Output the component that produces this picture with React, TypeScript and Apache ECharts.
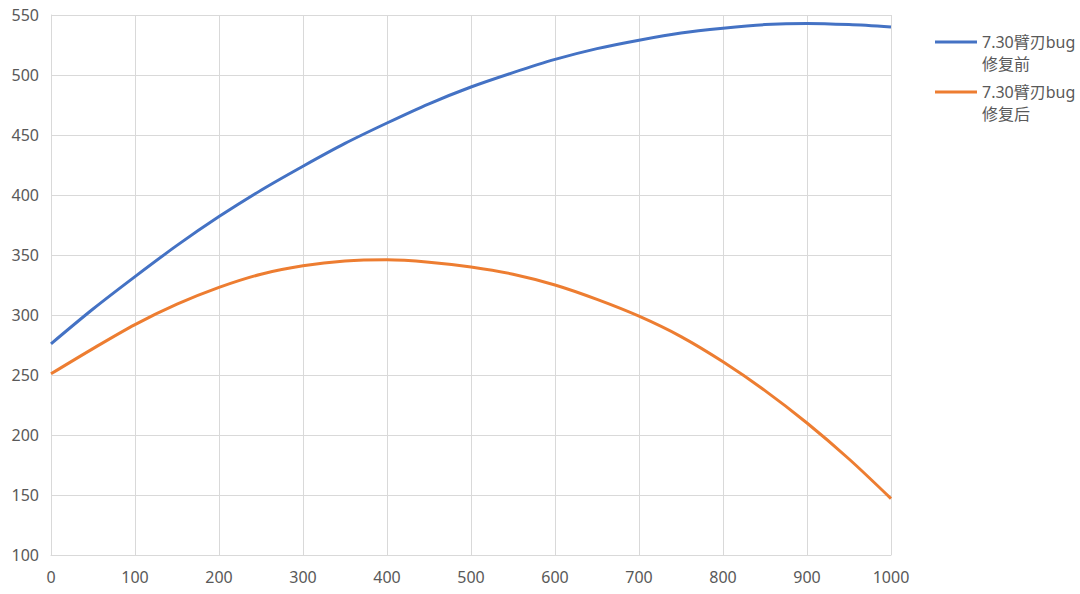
import React, { useEffect, useRef } from "react";
import * as echarts from "echarts";

const xValues = [0, 50, 100, 150, 200, 250, 300, 350, 400, 450, 500, 550, 600, 650, 700, 750, 800, 850, 900, 950, 1000];
const beforeFix = [276, 305, 332, 358, 382, 404, 424, 443, 460, 476, 490, 502, 513, 522, 529, 535, 539, 542, 543, 542, 540];
const afterFix = [251, 272, 292, 309, 323, 334, 341, 345, 346, 344, 340, 334, 325, 313, 299, 282, 261, 237, 210, 180, 147];
const seriesNames = ["7.30臂刃bug修复前", "7.30臂刃bug修复后"];
const legendLabels = ["\n7.30臂刃bug\n修复前", "\n7.30臂刃bug\n修复后"];

export default function App() {
  const ref = useRef<HTMLDivElement>(null);
  useEffect(() => {
    if (!ref.current) return;
    const chart = echarts.init(ref.current, undefined, { renderer: "svg" });
    const font = "'Noto Sans', 'Noto Sans CJK SC', sans-serif";
    chart.setOption({
      animation: false,
      backgroundColor: "#ffffff",
      textStyle: { fontFamily: font },
      grid: { left: 51, right: 189, top: 15, bottom: 39, containLabel: false },
      legend: {
        orient: "vertical",
        left: 930,
        top: 4,
        itemWidth: 42,
        itemHeight: 3,
        itemGap: -16,
        icon: "rect",
        data: seriesNames,
        formatter: (name: string) => legendLabels[seriesNames.indexOf(name)],
        textStyle: { color: "#595959", fontSize: 16, lineHeight: 22, fontFamily: font },
      },
      xAxis: {
        type: "value",
        min: 0,
        max: 1000,
        interval: 100,
        axisLine: { show: true, lineStyle: { color: "#D9D9D9", width: 1 } },
        axisTick: { show: false },
        splitLine: { show: true, lineStyle: { color: "#D9D9D9", width: 1 } },
        axisLabel: {
          color: "#595959",
          fontSize: 16,
          margin: 14,
          fontFamily: font,
          formatter: (v: number) => String(v),
        },
      },
      yAxis: {
        type: "value",
        min: 100,
        max: 550,
        interval: 50,
        axisLine: { show: true, lineStyle: { color: "#D9D9D9", width: 1 } },
        axisTick: { show: false },
        splitLine: { show: true, lineStyle: { color: "#D9D9D9", width: 1 } },
        axisLabel: {
          color: "#595959",
          fontSize: 16,
          margin: 12,
          fontFamily: font,
          formatter: (v: number) => String(v),
        },
      },
      series: [
        {
          name: seriesNames[0],
          type: "line",
          smooth: 0.3,
          showSymbol: false,
          symbol: "none",
          data: xValues.map((x, i) => [x, beforeFix[i]]),
          lineStyle: { color: "#4472C4", width: 3 },
          itemStyle: { color: "#4472C4" },
        },
        {
          name: seriesNames[1],
          type: "line",
          smooth: 0.3,
          showSymbol: false,
          symbol: "none",
          data: xValues.map((x, i) => [x, afterFix[i]]),
          lineStyle: { color: "#ED7D31", width: 3 },
          itemStyle: { color: "#ED7D31" },
        },
      ],
    });
    return () => chart.dispose();
  }, []);
  return (
    <div
      ref={ref}
      style={{ position: "absolute", left: 0, top: 0, width: 1080, height: 594 }}
    />
  );
}
